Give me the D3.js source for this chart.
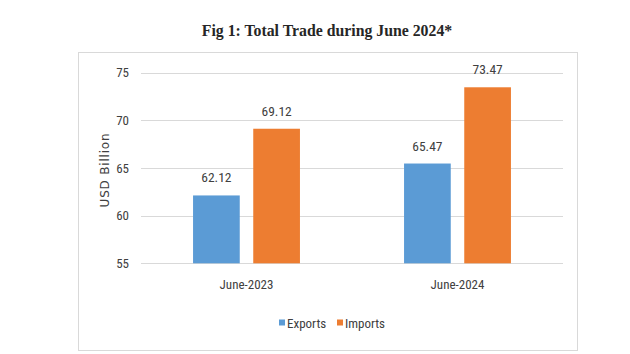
<!DOCTYPE html>
<html>
<head>
<meta charset="utf-8">
<script src="https://cdn.jsdelivr.net/npm/d3@7"></script>
<style>
  html, body { margin: 0; padding: 0; background: #fff; }
  svg { display: block; }
</style>
</head>
<body>
<svg id="chart" width="630" height="354"></svg>
<script>
const categories = ["June-2023", "June-2024"];
const seriesNames = ["Exports", "Imports"];
const exportsValues = [62.12, 65.47];
const importsValues = [69.12, 73.47];
const yTicks = [55, 60, 65, 70, 75];
const titleText = "Fig 1: Total Trade during June 2024*";
const yAxisTitle = "USD Billion";

const colors = { Exports: "#5b9bd5", Imports: "#ed7d31" };
const narrow = "'Liberation Sans Narrow', 'Roboto Condensed', 'Arial Narrow', sans-serif";

const svg = d3.select("#chart");

// Title
svg.append("text")
  .attr("x", 327).attr("y", 36)
  .attr("text-anchor", "middle")
  .attr("font-family", "'Liberation Serif', 'Times New Roman', serif")
  .attr("font-weight", "bold")
  .attr("font-size", 15.8)
  .attr("fill", "#262626")
  .text(titleText);

// Chart border
svg.append("rect")
  .attr("x", 78.5).attr("y", 52.5)
  .attr("width", 499).attr("height", 298)
  .attr("fill", "none")
  .attr("stroke", "#d9d9d9")
  .attr("stroke-width", 1);

const left = 141, right = 563;
const y = d3.scaleLinear().domain([55, 75]).range([263.3, 72.7]);
const x0 = d3.scaleBand().domain(categories).range([left, right]).paddingInner(0).paddingOuter(0);
const bandW = x0.bandwidth();
const barW = 46.7, gap = 13.5;

// gridlines
svg.append("g").selectAll("line").data(yTicks).join("line")
  .attr("x1", left).attr("x2", right)
  .attr("y1", d => Math.round(y(d)) + 0.5).attr("y2", d => Math.round(y(d)) + 0.5)
  .attr("stroke", "#d9d9d9").attr("stroke-width", 1);

// y tick labels
svg.append("g").selectAll("text").data(yTicks).join("text")
  .attr("x", 129).attr("y", d => y(d))
  .attr("dy", "0.35em")
  .attr("text-anchor", "end")
  .attr("font-family", narrow)
  .attr("font-size", 13)
  .attr("fill", "#404040")
  .text(d => d);

// y axis title
svg.append("text")
  .attr("transform", `translate(109,170) rotate(-90)`)
  .attr("text-anchor", "middle")
  .attr("font-family", "'DejaVu Sans', Verdana, sans-serif")
  .attr("font-size", 12)
  .attr("letter-spacing", 0.8)
  .attr("fill", "#404040")
  .text(yAxisTitle);

const data = categories.map((c, i) => ({
  cat: c,
  vals: [
    { name: "Exports", v: exportsValues[i] },
    { name: "Imports", v: importsValues[i] }
  ]
}));

const groupW = 2 * barW + gap;
const groups = svg.append("g").selectAll("g").data(data).join("g")
  .attr("transform", d => `translate(${x0(d.cat) + (bandW - groupW) / 2},0)`);

groups.selectAll("rect").data(d => d.vals).join("rect")
  .attr("x", (d, i) => i * (barW + gap))
  .attr("y", d => y(d.v))
  .attr("width", barW)
  .attr("height", d => y(55) - y(d.v))
  .attr("fill", d => colors[d.name]);

groups.selectAll("text.lbl").data(d => d.vals).join("text")
  .attr("class", "lbl")
  .attr("x", (d, i) => i * (barW + gap) + barW / 2)
  .attr("y", d => y(d.v) - 13)
  .attr("text-anchor", "middle")
  .attr("font-family", narrow)
  .attr("font-size", 13.5)
  .attr("fill", "#404040")
  .text(d => d.v.toFixed(2));

// x labels
svg.append("g").selectAll("text").data(categories).join("text")
  .attr("x", d => x0(d) + bandW / 2)
  .attr("y", 289)
  .attr("text-anchor", "middle")
  .attr("font-family", narrow)
  .attr("font-size", 13)
  .attr("fill", "#404040")
  .text(d => d);

// legend
const legendPos = [{ sx: 279, tx: 287 }, { sx: 337, tx: 345 }];
const lg = svg.append("g").selectAll("g").data(seriesNames).join("g");
lg.append("rect")
  .attr("x", (d, i) => legendPos[i].sx)
  .attr("y", 319.5)
  .attr("width", 6).attr("height", 6)
  .attr("fill", d => colors[d]);
lg.append("text")
  .attr("x", (d, i) => legendPos[i].tx)
  .attr("y", 323)
  .attr("dy", "0.35em")
  .attr("font-family", narrow)
  .attr("font-size", 13)
  .attr("fill", "#404040")
  .text(d => d);
</script>
</body>
</html>
